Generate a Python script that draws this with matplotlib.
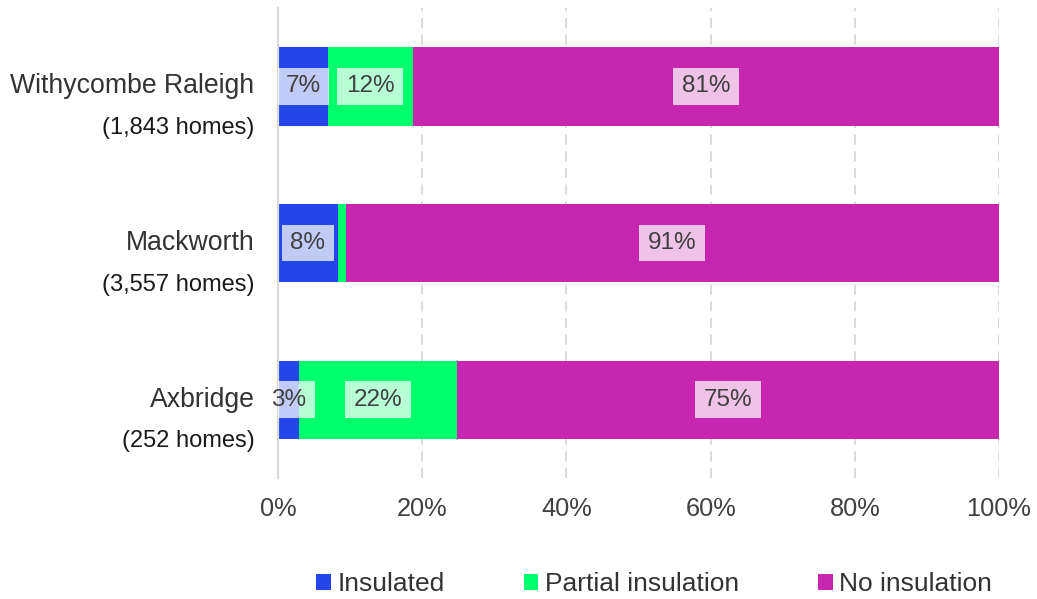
import matplotlib.pyplot as plt
from matplotlib.path import Path

plt.rcParams['font.family'] = ['Liberation Sans', 'DejaVu Sans']

# survey areas, top to bottom
areas = ["Withycombe Raleigh", "Mackworth", "Axbridge"]
homes = ["(1,843 homes)", "(3,557 homes)", "(252 homes)"]

# share of homes (%) in each insulation state
insulated = [6.9, 8.3, 2.9]
partial = [11.8, 1.1, 21.9]
no_insulation = [81.3, 90.6, 75.2]

series = ["Insulated", "Partial insulation", "No insulation"]
colors = ["#2446e8", "#00ff6c", "#c626b0"]
ticks = [0, 20, 40, 60, 80, 100]

TEXT = "#404040"


# flat rectangle with more room left/right than above/below
def label_box(x0, y0, width, height, mutation_size):
  px, py = 0.36 * mutation_size, 0.3 * mutation_size
  x0, y0 = x0 - px, y0 - py
  x1, y1 = x0 + width + 2 * px, y0 + height + 2 * py
  return Path([(x0, y0), (x1, y0), (x1, y1), (x0, y1), (x0, y0)],
              closed=True)


def main():
  fig = plt.figure(figsize=(10.37, 5.99), dpi=100)
  ax = fig.add_axes([0.2681, 0.202, 0.6953, 0.7846])

  rows = list(range(len(areas)))
  left = [0] * len(areas)
  for name, vals, col in zip(series, [insulated, partial, no_insulation], colors):
    ax.barh(rows, vals, left=left, height=0.5, color=col, label=name, zorder=2)
    for r, v, l in zip(rows, vals, left):
      if v < 2:
        continue
      lbl = f"{round(v)}%"
      # box is clipped to the plot area, the text itself is not
      ax.text(l + v / 2, r, lbl, ha="center", va="center",
              fontsize=17.5, color="none", zorder=3, clip_on=True,
              bbox=dict(boxstyle=label_box, fc="white", ec="none", alpha=0.72))
      ax.text(l + v / 2, r, lbl, ha="center", va="center",
              fontsize=17.5, color=TEXT, zorder=4, clip_on=False)
    left = [a + b for a, b in zip(left, vals)]

  ax.set_xlim(0, 100)
  ax.set_ylim(2.5, -0.5)
  ax.set_xticks(ticks)
  ax.set_xticklabels([f"{t}%" for t in ticks])
  ax.tick_params(axis="x", length=0, pad=14, labelsize=18.3, labelcolor=TEXT)
  ax.set_yticks([])

  # area names with household counts underneath
  for r in rows:
    ax.annotate(areas[r], xy=(0, r), xycoords=("axes fraction", "data"),
                xytext=(-17, 0), textcoords="offset points",
                ha="right", va="center", fontsize=19.2, color="#333333")
    ax.annotate(homes[r], xy=(0, r), xycoords=("axes fraction", "data"),
                xytext=(-17, -30), textcoords="offset points",
                ha="right", va="center", fontsize=17, color="#1a1a1a")

  ax.grid(axis="x", color="#d4d4d4", linestyle=(0, (6, 4)), linewidth=1.2, zorder=0)
  for side in ["top", "right", "bottom"]:
    ax.spines[side].set_visible(False)
  ax.spines["left"].set_color("#d9d9d9")
  ax.spines["left"].set_linewidth(1.6)

  fig.legend(loc="center", bbox_to_anchor=(0.631, 0.025), ncol=3, frameon=False,
             fontsize=19, handlelength=0.55, handleheight=0.55,
             handletextpad=0.25, columnspacing=3.0, labelcolor="#333333")

  fig.savefig("out.png", dpi=100)


if __name__ == "__main__":
  main()
